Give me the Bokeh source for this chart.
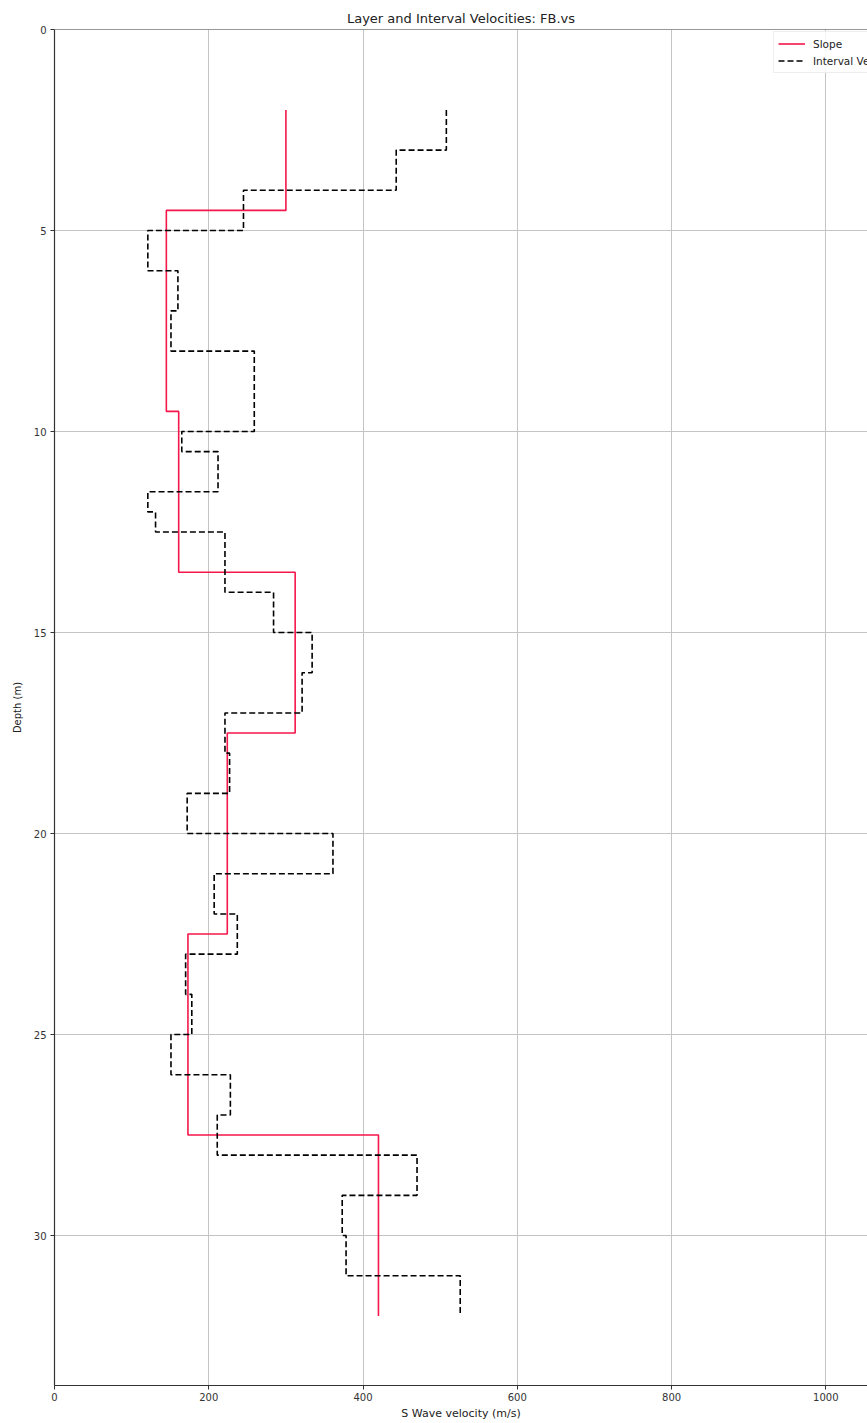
from bokeh.plotting import figure
from bokeh.models import (Range1d, FixedTicker, Span, Legend, LegendItem)
from bokeh.embed import file_html
from bokeh.resources import INLINE

# Layer (slope-derived) shear-wave velocities: layer boundaries (m) and velocity per layer (m/s)
slope_depths = [2.0, 4.5, 9.5, 13.5, 17.5, 22.5, 27.5, 32.0]
slope_vs = [300, 145, 161, 312, 224, 173, 420]

# Interval velocities: interval boundaries (m) and velocity per interval (m/s)
interval_depths = [2, 3, 4, 5, 6, 7, 8, 10, 10.5, 11.5, 12, 12.5, 14, 15, 16, 17,
                   18, 19, 20, 21, 22, 23, 24, 25, 26, 27, 28, 29, 30, 31, 32]
interval_vs = [508, 443, 245, 121, 160, 151, 259, 165, 212, 121, 131, 221, 284,
               334, 321, 221, 227, 172, 361, 207, 237, 170, 178, 151, 228, 211,
               470, 373, 378, 526]

x_ticks = [0, 200, 400, 600, 800, 1000]
y_ticks = [0, 5, 10, 15, 20, 25, 30]

FONT = "DejaVu Sans"


def depth_profile(bounds, values):
    """Turn layer boundaries + per-layer values into a vertical step path."""
    xs, ys = [], []
    for i, v in enumerate(values):
        xs += [v, v]
        ys += [bounds[i], bounds[i + 1]]
    return xs, ys


p = figure(
    width=867, height=1423,
    output_backend="svg", toolbar_location=None,
    x_range=Range1d(0, 1054), y_range=Range1d(33.73, 0),
    min_border_left=54, min_border_right=0,
    min_border_top=29, min_border_bottom=38,
    title="Layer and Interval Velocities: FB.vs",
)
p.background_fill_color = "white"
p.border_fill_color = "white"
p.outline_line_color = None

p.title.align = "center"
p.title.text_font = FONT
p.title.text_font_size = "13px"
p.title.text_font_style = "normal"
p.title.text_color = "#222222"
p.title.standoff = 8

# Axes in a plain, thin style
for ax in (p.xaxis[0], p.yaxis[0]):
    ax.axis_line_color = "#333333"
    ax.axis_line_width = 1.2
    ax.major_tick_line_color = "#333333"
    ax.major_tick_out = 4
    ax.major_tick_in = 0
    ax.minor_tick_line_color = None
    ax.major_label_text_font = FONT
    ax.major_label_text_font_size = "10px"
    ax.major_label_text_color = "#333333"
    ax.axis_label_text_font = FONT
    ax.axis_label_text_font_style = "normal"
    ax.axis_label_text_color = "#222222"

p.xaxis.ticker = FixedTicker(ticks=x_ticks)
p.yaxis.ticker = FixedTicker(ticks=y_ticks)
p.xaxis.axis_label = "S Wave velocity (m/s)"
p.yaxis.axis_label = "Depth (m)"
p.xaxis.axis_label_text_font_size = "11px"
p.yaxis.axis_label_text_font_size = "10px"
p.xaxis.major_label_standoff = 3
p.xaxis.axis_label_standoff = 3
p.yaxis.major_label_standoff = 4
p.yaxis.axis_label_standoff = 8

for g in (p.xgrid[0], p.ygrid[0]):
    g.grid_line_color = "#c4c4c4"
    g.grid_line_width = 1
p.xgrid.ticker = FixedTicker(ticks=x_ticks)
p.ygrid.ticker = FixedTicker(ticks=y_ticks)

# top spine along depth 0
p.add_layout(Span(location=0, dimension="width", line_color="#333333", line_width=1.2))

sx, sy = depth_profile(slope_depths, slope_vs)
ix, iy = depth_profile(interval_depths, interval_vs)

r_slope = p.line(sx, sy, line_color="#f5164a", line_width=1.6)
r_int = p.line(ix, iy, line_color="black", line_width=1.6, line_dash="6 3")

legend = Legend(
    items=[LegendItem(label="Slope", renderers=[r_slope]),
           LegendItem(label="Interval Velocity", renderers=[r_int])],
    location=(719, 1312),
    label_text_font=FONT, label_text_font_size="10.5px", label_text_color="#222222",
    glyph_width=27, glyph_height=15, label_height=15, label_standoff=8,
    spacing=2, padding=4, margin=0,
    border_line_color="#dddddd", background_fill_alpha=0.85,
)
p.add_layout(legend)

open("out.html", "w").write(file_html(p, INLINE))
